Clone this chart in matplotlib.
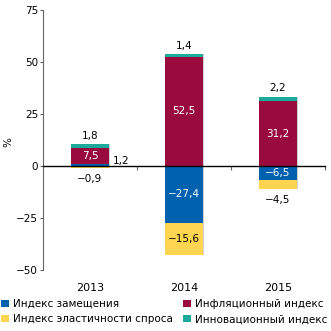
import matplotlib
matplotlib.use("Agg")
import matplotlib.pyplot as plt
from matplotlib.patches import Patch
from matplotlib import transforms
import numpy as np

years = ["2013", "2014", "2015"]
series_names = ["Индекс замещения", "Инфляционный индекс",
                "Индекс эластичности спроса", "Инновационный индекс"]
replacement = [1.2, -27.4, -6.5]
inflation = [7.5, 52.5, 31.2]
elasticity = [-0.9, -15.6, -4.5]
innovation = [1.8, 1.4, 2.2]
y_ticks = [-50, -25, 0, 25, 50, 75]

colors = ["#0062AF", "#990B3D", "#FFD450", "#1AA99B"]
series = [replacement, inflation, elasticity, innovation]

plt.rcParams['font.family'] = ['DejaVu Sans']
fig = plt.figure(figsize=(3.31, 3.31), dpi=100)
ax = fig.add_axes([43/331, 1-270/331, 282/331, 260/331])

x = np.arange(len(years))
w = 0.40
pos_b = np.zeros(len(years))
neg_b = np.zeros(len(years))

def fmt(v):
    return f"{v:.1f}".replace('.', ',').replace('-', '\u2212')

# shadow
tot_pos = np.zeros(len(years)); tot_neg = np.zeros(len(years))
for s in series:
    a = np.array(s)
    tot_pos += np.where(a > 0, a, 0); tot_neg += np.where(a < 0, a, 0)
ax.bar(x + 0.015, tot_pos - tot_neg, w, bottom=tot_neg, color="#d0d0d0", zorder=1)

for si, (s, c) in enumerate(zip(series, colors)):
    a = np.array(s, dtype=float)
    bottoms = np.where(a >= 0, pos_b, neg_b)
    ax.bar(x, a, w, bottom=bottoms, color=c, zorder=2)
    for i, v in enumerate(a):
        b = bottoms[i]
        mid = b + v / 2
        if si == 3:  # innovation: above top
            ax.annotate(fmt(v), (x[i], b + v), xytext=(0, 6), textcoords='offset points',
                        ha='center', va='center', fontsize=7.5, color='black')
        elif abs(v) >= 6:
            tc = 'black' if si == 2 else 'white'
            ax.text(x[i], mid, fmt(v), ha='center', va='center', fontsize=7.5, color=tc, zorder=3)
        elif si == 0:
            ax.annotate(fmt(v), (x[i] + w / 2, mid), xytext=(3, 3), textcoords='offset points',
                        ha='left', va='center', fontsize=7.5, color='black')
        else:
            ax.annotate(fmt(v), (x[i], b + v), xytext=(0, -8), textcoords='offset points',
                        ha='center', va='center', fontsize=7.5, color='black')
    pos_b = pos_b + np.where(a > 0, a, 0)
    neg_b = neg_b + np.where(a < 0, a, 0)

ax.set_xlim(-0.5, 2.5)
ax.set_ylim(-50, 75)
ax.set_yticks(y_ticks)
ax.set_yticklabels([str(t).replace('-', '\u2212') for t in y_ticks], fontsize=7.5)
ax.tick_params(axis='y', direction='out', length=2, width=0.8, color='#666666', pad=1.5)

ax.spines['top'].set_visible(False)
ax.spines['right'].set_visible(False)
ax.spines['left'].set_color('#666666')
ax.spines['left'].set_linewidth(0.8)
ax.spines['bottom'].set_position(('data', 0))
ax.spines['bottom'].set_color('black')
ax.spines['bottom'].set_linewidth(1.0)
ax.spines['bottom'].set_zorder(4)
ax.set_xticks([0.5, 1.5, 2.5])
ax.set_xticklabels([])
ax.tick_params(axis='x', direction='out', length=3, width=0.8, color='#666666')

trans = transforms.blended_transform_factory(ax.transData, ax.transAxes)
for i, yl in enumerate(years):
    ax.text(x[i], -0.069, yl, transform=trans, ha='center', va='center', fontsize=8)

fig.text(8/331, 1-142/331, "%", rotation=90, ha='center', va='center', fontsize=7.5)

order = [0, 2, 1, 3]
handles = [Patch(facecolor=colors[k], edgecolor='none') for k in order]
labels = [series_names[k] for k in order]
fig.legend(handles, labels, ncol=2, loc='upper left', bbox_to_anchor=(0.003, 1 - 299/331),
           frameon=False, fontsize=7.5, handlelength=0.75, handleheight=0.75,
           handletextpad=0.4, columnspacing=1.0, borderpad=0, borderaxespad=0,
           labelspacing=0.5)

fig.savefig("out.png", dpi=100)
